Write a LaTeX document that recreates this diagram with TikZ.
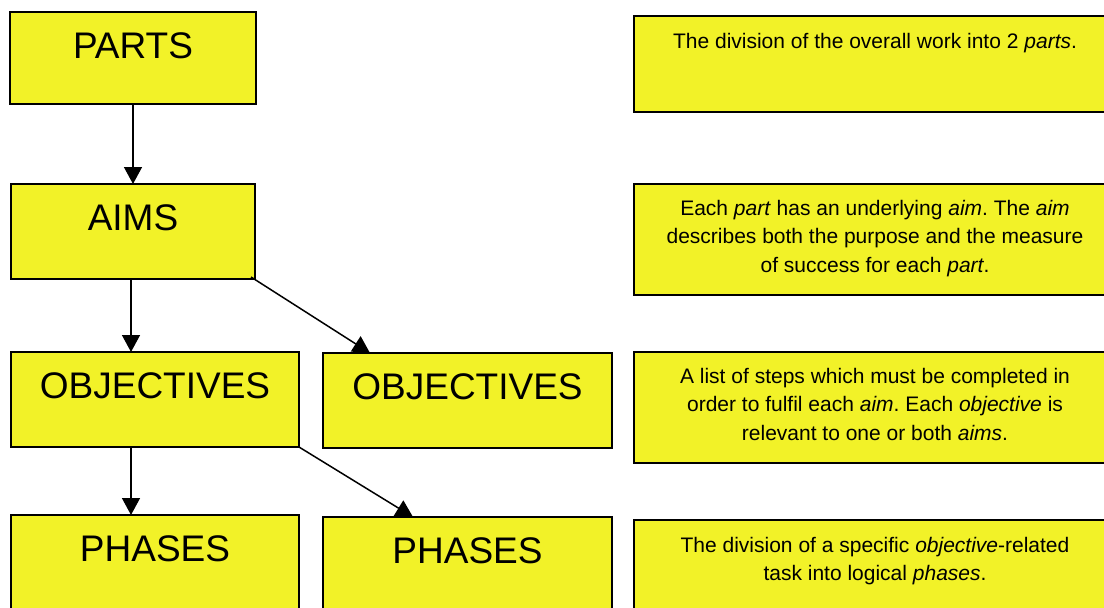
\documentclass[tikz,border=0pt]{standalone}
\usepackage{fontspec}
\setmainfont{Liberation Sans}
\usetikzlibrary{arrows.meta,calc}
\frenchspacing
\definecolor{boxyellow}{RGB}{242,242,40}
\tikzset{
  box/.style={draw=black, line width=1.8pt, fill=boxyellow, rectangle,
    anchor=north west, inner sep=0pt, outer sep=0pt},
  title/.style={anchor=base, inner sep=0pt, font=\fontsize{37}{40}\selectfont},
  note/.style={anchor=north, inner sep=0pt, align=center,
    font=\fontsize{21}{28.5}\selectfont},
  link/.style={line width=1.5pt, -{Triangle[length=17pt,width=18pt]}}
}
\begin{document}
\begin{tikzpicture}[x=1pt,y=-1pt]
\useasboundingbox (0,0) rectangle (1104,608);
\clip (0,0) rectangle (1104,608);

% hierarchy boxes on the left
\node[box, minimum width=246pt, minimum height=92pt]  (parts) at (10,12)  {};
\node[box, minimum width=244pt, minimum height=95pt]  (aims)  at (11,184) {};
\node[box, minimum width=288pt, minimum height=95pt]  (objA)  at (11,352) {};
\node[box, minimum width=289pt, minimum height=95pt]  (objB)  at (323,353) {};
\node[box, minimum width=288pt, minimum height=120pt] (phA)   at (11,515) {};
\node[box, minimum width=289pt, minimum height=120pt] (phB)   at (323,517) {};

\node[title] (partsT) at ($(parts.north)+(0,46)$) {PARTS};
\node[title] (aimsT)  at ($(aims.north)+(0,46)$)  {AIMS};
\node[title] (objAT)  at ($(objA.north)+(0,46)$)  {OBJECTIVES};
\node[title] (objBT)  at ($(objB.north)+(0,46)$)  {OBJECTIVES};
\node[title] (phAT)   at ($(phA.north)+(0,46)$)   {PHASES};
\node[title] (phBT)   at ($(phB.north)+(0,46)$)   {PHASES};

% description boxes on the right
\node[box, minimum width=482pt, minimum height=96pt]  (descParts) at (634,16)  {};
\node[box, minimum width=482pt, minimum height=111pt] (descAims)  at (634,184) {};
\node[box, minimum width=482pt, minimum height=111pt] (descObj)   at (634,352) {};
\node[box, minimum width=482pt, minimum height=120pt] (descPh)    at (634,520) {};

\node[note] (descPartsT) at ($(descParts.north)+(0,17)$)
  {The division of the overall work into 2 \textit{parts}.};
\node[note] (descAimsT) at ($(descAims.north)+(0,16)$)
  {Each \textit{part} has an underlying \textit{aim}. The \textit{aim}\\
   describes both the purpose and the measure\\
   of success for each \textit{part}.};
\node[note] (descObjT) at ($(descObj.north)+(0,16)$)
  {A list of steps which must be completed in\\
   order to fulfil each \textit{aim}. Each \textit{objective} is\\
   relevant to one or both \textit{aims}.};
\node[note] (descPhT) at ($(descPh.north)+(0,17)$)
  {The division of a specific \textit{objective}-related\\
   task into logical \textit{phases}.};

% connectors
\coordinate (aimsOut)  at ($(aims.south west)+(120,0)$);
\coordinate (objAOut)  at ($(objA.south west)+(120,0)$);
\coordinate (objBIn)   at ($(objB.north west)+(47,0)$);
\coordinate (phBIn)    at ($(phB.north west)+(90,0)$);

\draw[link] (parts.south) -- (parts.south |- aims.north);
\draw[link] (aimsOut) -- (aimsOut |- objA.north);
\draw[link] (objAOut) -- (objAOut |- phA.north);
\draw[link] ($(aims.south east)+(-4,-2)$) -- (objBIn);
\draw[link] (objA.south east) -- (phBIn);
\end{tikzpicture}
\end{document}
